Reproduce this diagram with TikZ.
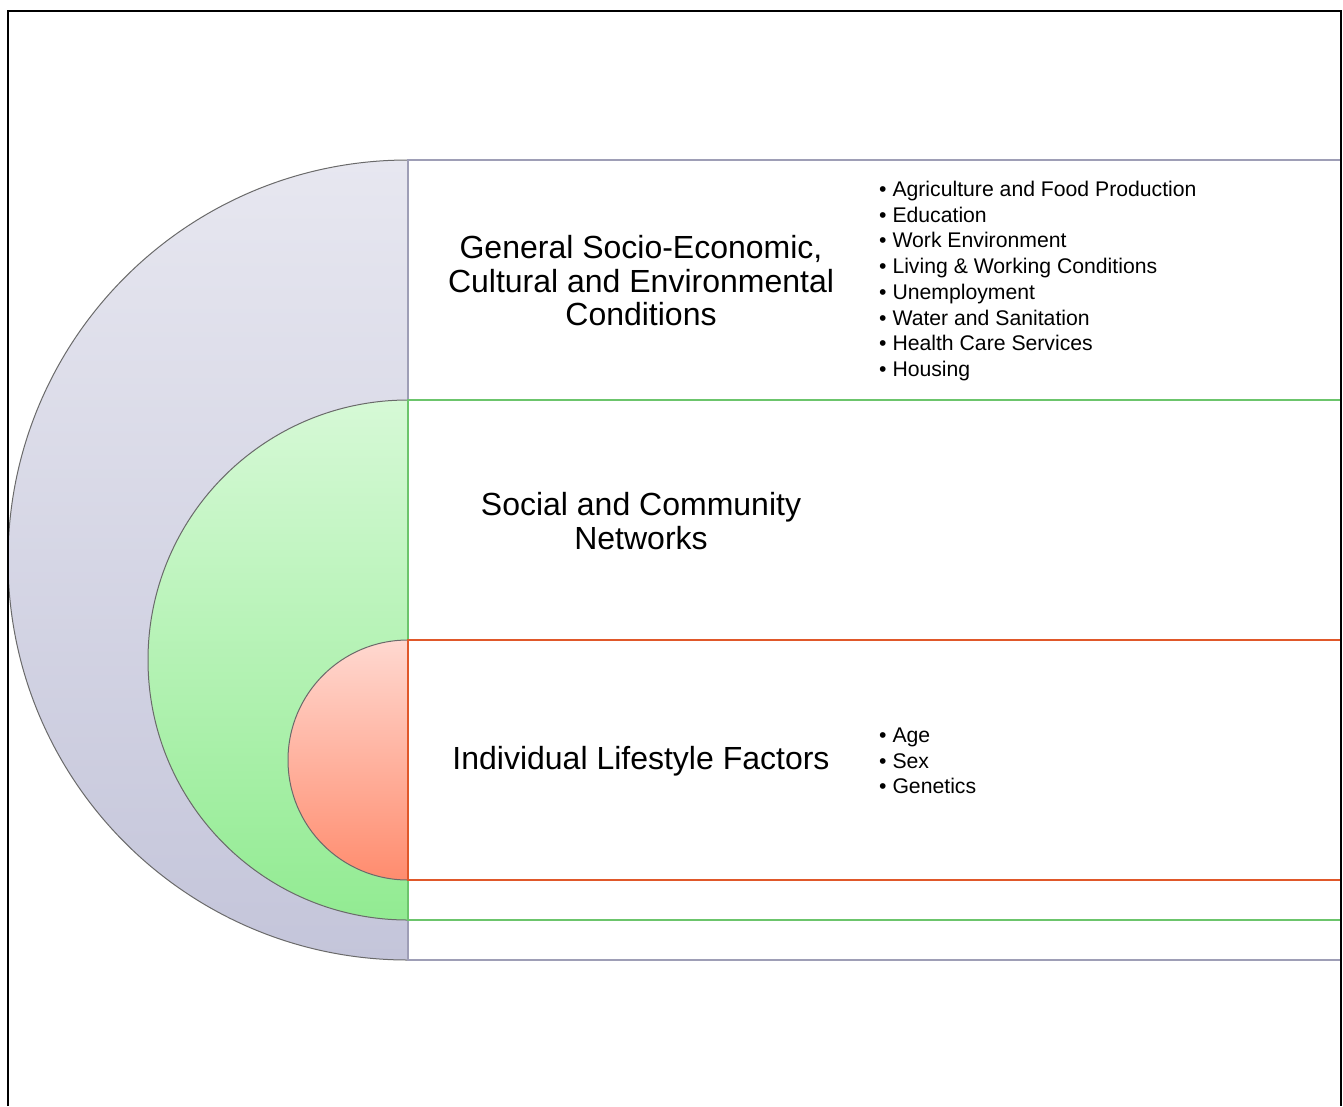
\documentclass[tikz,border=0pt]{standalone}
\usepackage{fontspec}
\setmainfont{Liberation Sans}
\definecolor{grayedge}{HTML}{9E9EB6}
\definecolor{greenedge}{HTML}{6CC56C}
\definecolor{rededge}{HTML}{E0582A}
\definecolor{graytop}{HTML}{E7E7F0}
\definecolor{graybot}{HTML}{C4C5DA}
\definecolor{greentop}{HTML}{D6F9D6}
\definecolor{greenbot}{HTML}{92EB92}
\definecolor{redtop}{HTML}{FFD8D0}
\definecolor{redbot}{HTML}{FF8C6E}
\definecolor{arcedge}{HTML}{6A6A6A}
\tikzset{
  bandbox/.style={line width=2pt,fill=white},
  halfdisc/.style={draw=arcedge,line width=1pt},
  title/.style={font=\fontsize{32}{33.5}\selectfont,align=center,inner sep=0pt},
  itemlist/.style={font=\fontsize{21.2}{25.7}\selectfont,align=left,anchor=west,inner sep=0pt},
}
\begin{document}
\begin{tikzpicture}[x=1pt,y=1pt]
\useasboundingbox (0,0) rectangle (1343,-1106);
\fill[white] (0,0) rectangle (1343,-1106);
% outer band
\shade[top color=graytop,bottom color=graybot,halfdisc] (408,-160) arc[start angle=90,end angle=270,radius=400pt] -- cycle;
\draw[bandbox,draw=grayedge] (408,-160) rectangle (1341,-960);
% middle band
\shade[top color=greentop,bottom color=greenbot,halfdisc] (408,-400) arc[start angle=90,end angle=270,radius=260pt] -- cycle;
\draw[bandbox,draw=greenedge] (408,-400) rectangle (1341,-920);
% inner band
\shade[top color=redtop,bottom color=redbot,halfdisc] (408,-640) arc[start angle=90,end angle=270,radius=120pt] -- cycle;
\draw[bandbox,draw=rededge] (408,-640) rectangle (1341,-880);
% frame
\draw[line width=2.2pt,black] (8,-1106) -- (8,-11) -- (1341,-11) -- (1341,-1106);
% texts
\node[title] (gen) at (641,-281) {General Socio-Economic,\\Cultural and Environmental\\Conditions};
\node[title] (soc) at (641,-521) {Social and Community\\Networks};
\node[title] (ind) at (641,-761) {Individual Lifestyle Factors};
\node[itemlist] (genlist) at (879,-281) {• Agriculture and Food Production\\• Education\\• Work Environment\\• Living \& Working Conditions\\• Unemployment\\• Water and Sanitation\\• Health Care Services\\• Housing};
\node[itemlist] (indlist) at (879,-761) {• Age\\• Sex\\• Genetics};
\end{tikzpicture}
\end{document}
